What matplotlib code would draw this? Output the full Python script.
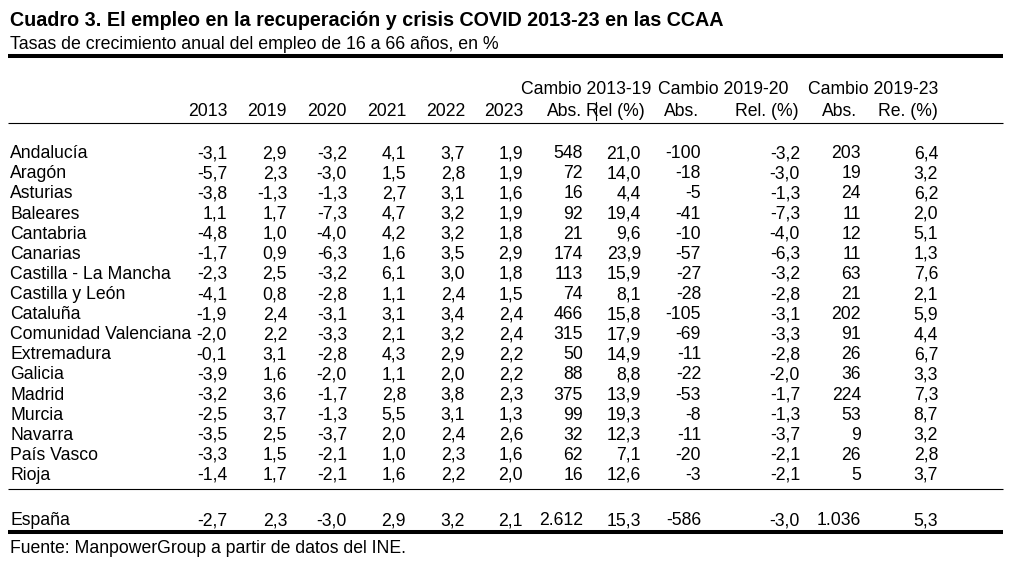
import matplotlib.pyplot as plt

plt.rcParams["font.family"] = ["Liberation Sans", "DejaVu Sans"]

# ---------------------------------------------------------------------
# Table data
# ---------------------------------------------------------------------

title = "Cuadro 3. El empleo en la recuperación y crisis COVID 2013-23 en las CCAA"
subtitle = "Tasas de crecimiento anual del empleo de 16 a 66 años, en %"
source = "Fuente: ManpowerGroup a partir de datos del INE."

group_headers = ["Cambio 2013-19", "Cambio 2019-20", "Cambio 2019-23"]
col_headers = ["2013", "2019", "2020", "2021", "2022", "2023",
               "Abs.", "Rel (%)", "Abs.", "Rel. (%)", "Abs.", "Re. (%)"]

regions = ["Andalucía", "Aragón", "Asturias", "Baleares", "Cantabria",
           "Canarias", "Castilla - La Mancha", "Castilla y León", "Cataluña",
           "Comunidad Valenciana", "Extremadura", "Galicia", "Madrid",
           "Murcia", "Navarra", "País Vasco", "Rioja"]

g2013 = [-3.1, -5.7, -3.8, 1.1, -4.8, -1.7, -2.3, -4.1, -1.9, -2.0, -0.1, -3.9, -3.2, -2.5, -3.5, -3.3, -1.4]
g2019 = [2.9, 2.3, -1.3, 1.7, 1.0, 0.9, 2.5, 0.8, 2.4, 2.2, 3.1, 1.6, 3.6, 3.7, 2.5, 1.5, 1.7]
g2020 = [-3.2, -3.0, -1.3, -7.3, -4.0, -6.3, -3.2, -2.8, -3.1, -3.3, -2.8, -2.0, -1.7, -1.3, -3.7, -2.1, -2.1]
g2021 = [4.1, 1.5, 2.7, 4.7, 4.2, 1.6, 6.1, 1.1, 3.1, 2.1, 4.3, 1.1, 2.8, 5.5, 2.0, 1.0, 1.6]
g2022 = [3.7, 2.8, 3.1, 3.2, 3.2, 3.5, 3.0, 2.4, 3.4, 3.2, 2.9, 2.0, 3.8, 3.1, 2.4, 2.3, 2.2]
g2023 = [1.9, 1.9, 1.6, 1.9, 1.8, 2.9, 1.8, 1.5, 2.4, 2.4, 2.2, 2.2, 2.3, 1.3, 2.6, 1.6, 2.0]
abs_13_19 = [548, 72, 16, 92, 21, 174, 113, 74, 466, 315, 50, 88, 375, 99, 32, 62, 16]
rel_13_19 = [21.0, 14.0, 4.4, 19.4, 9.6, 23.9, 15.9, 8.1, 15.8, 17.9, 14.9, 8.8, 13.9, 19.3, 12.3, 7.1, 12.6]
abs_19_20 = [-100, -18, -5, -41, -10, -57, -27, -28, -105, -69, -11, -22, -53, -8, -11, -20, -3]
rel_19_20 = [-3.2, -3.0, -1.3, -7.3, -4.0, -6.3, -3.2, -2.8, -3.1, -3.3, -2.8, -2.0, -1.7, -1.3, -3.7, -2.1, -2.1]
abs_19_23 = [203, 19, 24, 11, 12, 11, 63, 21, 202, 91, 26, 36, 224, 53, 9, 26, 5]
rel_19_23 = [6.4, 3.2, 6.2, 2.0, 5.1, 1.3, 7.6, 2.1, 5.9, 4.4, 6.7, 3.3, 7.3, 8.7, 3.2, 2.8, 3.7]

spain_label = "España"
spain = [-2.7, 2.3, -3.0, 2.9, 3.2, 2.1, 2612, 15.3, -586, -3.0, 1036, 5.3]


def fmt_dec(v):
    return f"{v:.1f}".replace(".", ",")


def fmt_int(v):
    return f"{v:,d}".replace(",", ".")


# ---------------------------------------------------------------------
# Layout (pixel coordinates, y grows downwards)
# ---------------------------------------------------------------------

col_right = [227, 287, 347, 406, 465, 523, 583, 641, 701, 800, 861, 938]
is_int_col = [False] * 6 + [True, False, True, False, True, False]
header_right = [227, 287, 347, 406, 465, 523, 582, 645, 699, 799, 857, 938]
group_centers = [586, 723, 873]
x_left, x_right = 8, 1003
fs = 12.7
base = 6.3  # offset from row centre to text baseline

fig = plt.figure(figsize=(10.21, 5.62), dpi=100)
ax = fig.add_axes([0, 0, 1, 1])
ax.set_xlim(0, 1021)
ax.set_ylim(562, 0)
ax.axis("off")

ax.text(10, 19 + 7, title, fontsize=14.2, fontweight="bold", va="baseline", ha="left")
ax.text(10, 43 + base, subtitle, fontsize=12.75, va="baseline", ha="left")
ax.text(10, 547 + base, source, fontsize=fs, va="baseline", ha="left")

ax.plot([x_left, x_right], [56, 56], color="black", lw=2.9, solid_capstyle="butt")
ax.plot([x_left, x_right], [123, 123], color="black", lw=0.8, solid_capstyle="butt")
ax.plot([x_left, x_right], [489, 489], color="black", lw=0.8, solid_capstyle="butt")
ax.plot([x_left, x_right], [532, 532], color="black", lw=2.9, solid_capstyle="butt")

# headers
for cx, text in zip(group_centers, group_headers):
    ax.text(cx, 88 + base, text, fontsize=fs, ha="center", va="baseline")
for hx, text in zip(header_right, col_headers):
    ax.text(hx, 110 + base, text, fontsize=fs, ha="right", va="baseline")
# small cursor mark in the header
ax.plot([596, 596], [102, 120], color="black", lw=0.8)

columns = [g2013, g2019, g2020, g2021, g2022, g2023,
           abs_13_19, rel_13_19, abs_19_20, rel_19_20, abs_19_23, rel_19_23]

y0, dy = 152, 20.1
for i, name in enumerate(regions):
    y = y0 + i * dy + base
    ax.text(10, y, name, fontsize=fs, ha="left", va="baseline")
    for cx, col, is_int in zip(col_right, columns, is_int_col):
        v = col[i]
        s = fmt_int(v) if is_int else fmt_dec(v)
        ax.text(cx, y, s, fontsize=fs, ha="right", va="baseline")

y_sp = 519 + base
ax.text(10, y_sp, spain_label, fontsize=fs, ha="left", va="baseline")
for cx, v, is_int in zip(col_right, spain, is_int_col):
    s = fmt_int(v) if is_int else fmt_dec(v)
    ax.text(cx, y_sp, s, fontsize=fs, ha="right", va="baseline")

fig.savefig("out.png", dpi=100)
